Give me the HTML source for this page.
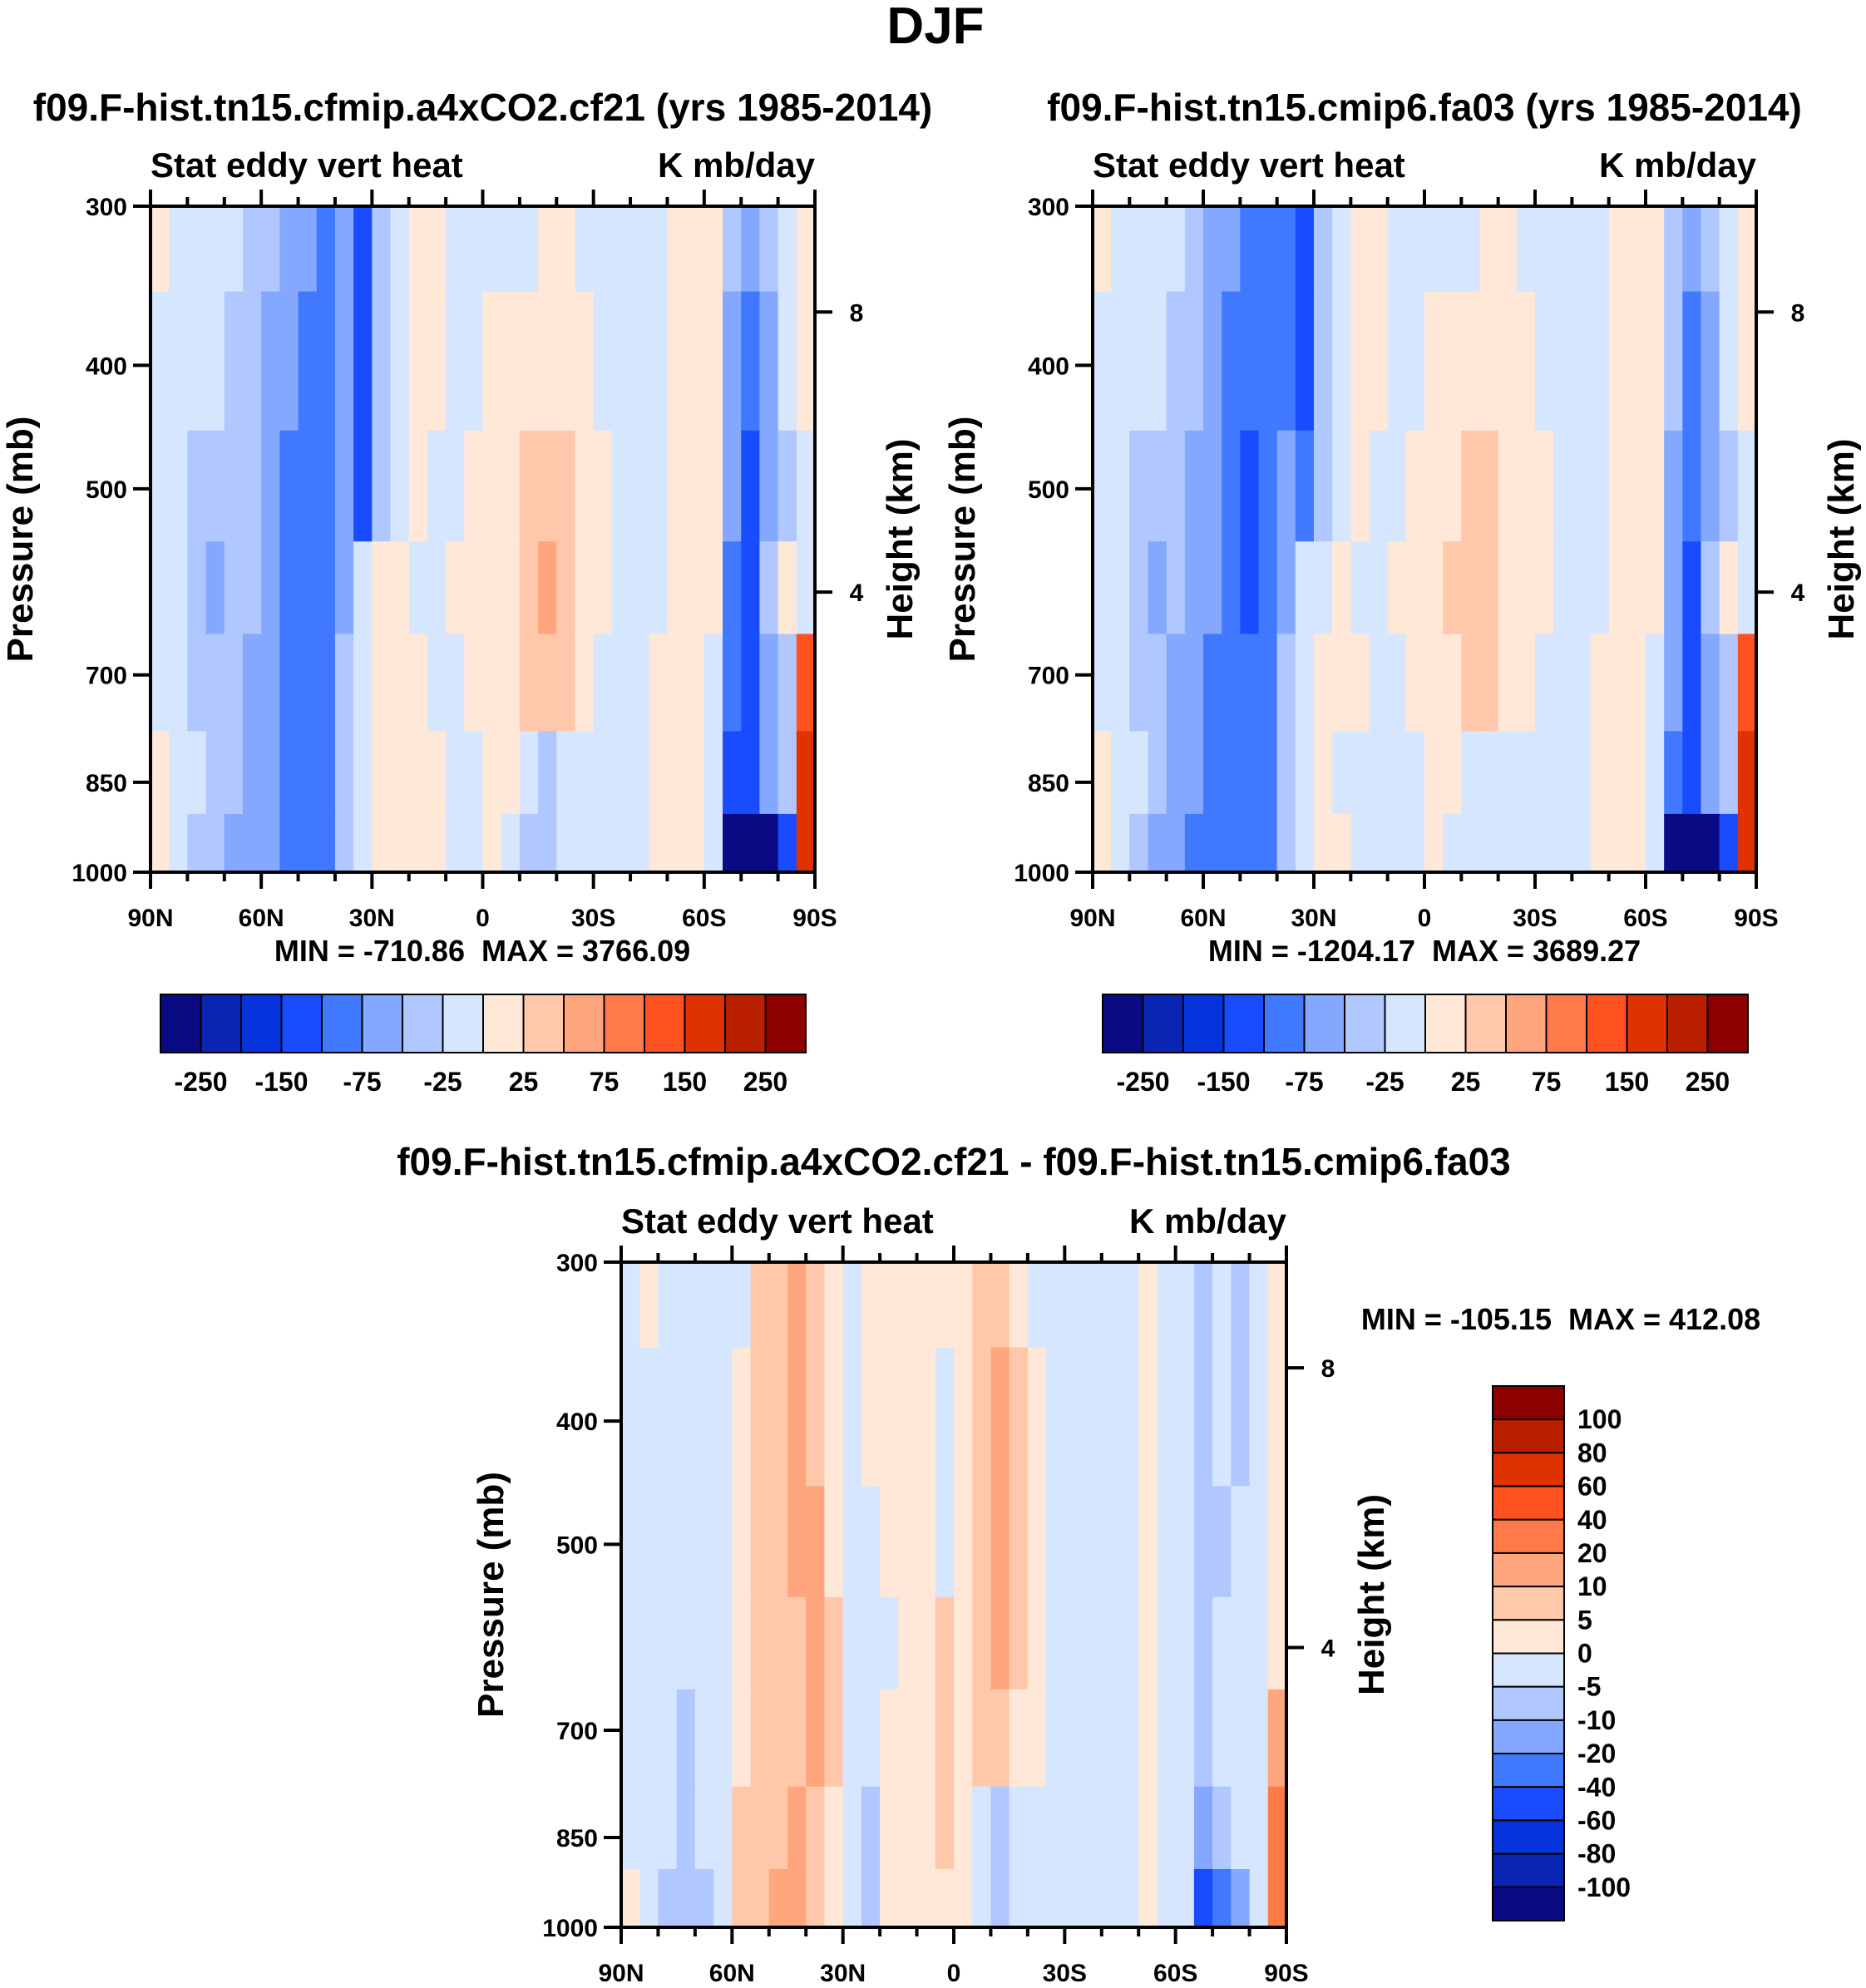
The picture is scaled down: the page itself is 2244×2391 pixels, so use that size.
<!DOCTYPE html>
<html><head><meta charset="utf-8">
<style>
html,body{margin:0;padding:0;background:#fff;}
svg{display:block;font-family:"Liberation Sans",Arial,sans-serif;font-weight:bold;}
</style></head>
<body>
<svg id="fig" width="2244" height="2391" viewBox="0 0 2244 2391" xmlns="http://www.w3.org/2000/svg">
<text x="1125" y="52" font-size="62" text-anchor="middle">DJF</text>
</svg>
<script>
// ---- data ----
const rowBounds = [300,350,450,550,650,775,900,1000];
const pressureTicks = [300,400,500,700,850,1000];
const latTickLabels = ["90N","60N","30N","0","30S","60S","90S"];
const heightTicks = [8,4];
const topLevels = [-250,-200,-150,-100,-75,-50,-25,0,25,50,75,100,150,200,250];
const topCbLabels = ["-250","-150","-75","-25","25","75","150","250"];
const diffLevels = [-100,-80,-60,-40,-20,-10,-5,0,5,10,20,40,60,80,100];
const diffCbLabels = ["100","80","60","40","20","10","5","0","-5","-10","-20","-40","-60","-80","-100"];
const colors = ['#0a0a84','#0a24b4','#0533dc','#1a4cff','#4078ff','#85a8ff','#b0c8ff','#d6e6ff','#ffe8d8','#ffc8aa','#ffa67e','#ff7a48','#ff5020','#e03200','#b82000','#8c0000'];
const p1 = [
[10,-10,-10,-10,-10,-40,-40,-60,-60,-90,-60,-120,-40,-10,10,10,-10,-10,-10,-10,-10,10,10,-10,-10,-10,-10,-10,10,10,10,-40,-60,-40,-10,10],
[-10,-10,-10,-10,-40,-40,-60,-60,-90,-90,-60,-120,-40,-10,10,10,-10,-10,10,10,10,10,10,10,-10,-10,-10,-10,10,10,10,-60,-90,-60,-10,10],
[-10,-10,-40,-40,-40,-40,-60,-90,-90,-90,-60,-120,-40,-10,10,-10,-10,10,10,10,40,40,40,10,10,-10,-10,-10,10,10,10,-60,-120,-60,-40,-10],
[-10,-10,-40,-60,-40,-40,-60,-90,-90,-90,-60,-10,10,10,-10,-10,10,10,10,10,40,60,40,10,10,-10,-10,-10,10,10,10,-90,-120,-40,10,-10],
[-10,-10,-40,-40,-40,-60,-60,-90,-90,-90,-40,-10,10,10,10,-10,-10,10,10,10,40,40,40,10,-10,-10,-10,10,10,10,-10,-90,-120,-60,-40,120],
[10,-10,-10,-40,-40,-60,-60,-90,-90,-90,-40,-10,10,10,10,10,-10,-10,10,10,-10,-40,-10,-10,-10,-10,-10,10,10,10,-10,-120,-120,-60,-40,170],
[10,-10,-40,-40,-60,-60,-60,-90,-90,-90,-40,-10,10,10,10,10,-10,-10,10,-10,-40,-40,-10,-10,-10,-10,-10,10,10,10,-10,-400,-400,-400,-120,170]];
const p2 = [
[10,-10,-10,-10,-10,-40,-60,-60,-90,-90,-90,-120,-40,-10,10,10,-10,-10,-10,-10,-10,10,10,-10,-10,-10,-10,-10,10,10,10,-40,-60,-40,-10,10],
[-10,-10,-10,-10,-40,-40,-60,-90,-90,-90,-90,-120,-40,-10,10,10,-10,-10,10,10,10,10,10,10,-10,-10,-10,-10,10,10,10,-40,-90,-60,-10,10],
[-10,-10,-40,-40,-40,-60,-60,-90,-120,-90,-60,-90,-40,-10,10,-10,-10,10,10,10,40,40,10,10,10,-10,-10,-10,10,10,10,-60,-90,-60,-40,-10],
[-10,-10,-40,-60,-40,-60,-60,-90,-120,-90,-60,-10,-10,10,-10,-10,10,10,10,40,40,40,10,10,10,-10,-10,-10,10,10,10,-60,-120,-40,10,-10],
[-10,-10,-40,-40,-60,-60,-90,-90,-90,-90,-40,-10,10,10,10,-10,-10,10,10,10,40,40,10,10,-10,-10,-10,10,10,10,-10,-60,-120,-60,-40,120],
[10,-10,-10,-40,-60,-60,-90,-90,-90,-90,-40,-10,10,-10,-10,-10,-10,-10,10,10,-10,-10,-10,-10,-10,-10,-10,10,10,10,-10,-90,-120,-60,-40,170],
[10,-10,-40,-60,-60,-90,-90,-90,-90,-90,-40,-10,10,10,-10,-10,-10,-10,10,-10,-10,-10,-10,-10,-10,-10,-10,10,10,10,-10,-400,-400,-400,-120,170]];
const p3 = [
[-2,2,-2,-2,-2,-2,-2,7,7,15,7,2,-2,2,2,2,2,2,2,7,7,2,-2,-2,-2,-2,-2,-2,2,-2,-2,-7,-2,-7,-2,2],
[-2,-2,-2,-2,-2,-2,2,7,7,15,7,2,-2,2,2,2,2,-2,2,7,15,7,2,-2,-2,-2,-2,-2,2,-2,-2,-7,-2,-7,-2,2],
[-2,-2,-2,-2,-2,-2,2,7,7,15,15,2,-2,-2,2,2,2,-2,2,7,15,7,2,-2,-2,-2,-2,-2,2,-2,-2,-7,-7,-2,-2,2],
[-2,-2,-2,-2,-2,-2,2,7,7,7,15,7,-2,-2,-2,2,2,7,2,7,15,7,2,-2,-2,-2,-2,-2,2,-2,-2,-7,-2,-2,-2,2],
[-2,-2,-2,-7,-2,-2,2,7,7,7,15,7,-2,-2,2,2,2,7,2,7,7,2,2,-2,-2,-2,-2,-2,2,-2,-2,-7,-2,-2,-2,15],
[-2,-2,-2,-7,-2,-2,7,7,7,15,7,2,-2,-7,2,2,2,7,2,-2,-7,-2,-2,-2,-2,-2,-2,-2,2,-2,-2,-15,-7,-2,-2,30],
[2,-2,-7,-7,-7,-2,7,7,15,15,7,2,-2,-7,2,2,2,2,2,-2,-7,-2,-2,-2,-2,-2,-2,-2,2,-2,-2,-50,-30,-15,-2,30]];

// ---- drawing ----
const NS = "http://www.w3.org/2000/svg";
const svg = document.getElementById('fig');
function mk(tag, attrs, parent){
  const e = document.createElementNS(NS, tag);
  for (const k in attrs) e.setAttribute(k, attrs[k]);
  (parent||svg).appendChild(e);
  return e;
}
function txt(s, x, y, size, anchor, parent){
  const t = mk('text', {x:x, y:y, 'font-size':size, 'text-anchor':anchor||'middle'}, parent);
  t.textContent = s;
  return t;
}
function classOf(v, levels){
  let i = 0;
  while (i < levels.length && v >= levels[i]) i++;
  return i;
}

function panel(P){
  const g = mk('g', {});
  
  
  const L = P.x0, R = P.x1, T = P.y0, B = P.y1;
  const xOf = lat => L + (90 - lat) / 180 * (R - L);
  const yOf = p => B - Math.log(1000 / p) / Math.log(1000 / 300) * (B - T);
  const ncol = P.data[0].length, dlat = 180 / ncol;
  P.data.forEach((row, r) => {
    row.forEach((v, c) => {
      const xa = xOf(90 - c * dlat), xb = xOf(90 - (c + 1) * dlat);
      const ya = yOf(rowBounds[r]), yb = yOf(rowBounds[r + 1]);
      const cell = mk('rect', {x:xa, y:ya, width:xb - xa + 0.6, height:yb - ya + 0.6, fill:colors[classOf(v, P.levels)]}, g);
      
      
    });
  });
  const frame = mk('rect', {x:L, y:T, width:R - L, height:B - T, fill:'none', stroke:'#000', 'stroke-width':4}, g);
  
  
  pressureTicks.forEach(p => {
    const y = yOf(p);
    mk('line', {x1:L - 21, x2:L, y1:y, y2:y, stroke:'#000', 'stroke-width':4}, g);
    const t = txt(String(p), L - 28, y + 11, 30, 'end', g);
    
    
  });
  heightTicks.forEach(h => {
    const y = yOf(1000 * Math.exp(-h / 7.9));
    mk('line', {x1:R, x2:R + 21, y1:y, y2:y, stroke:'#000', 'stroke-width':4}, g);
    const t = txt(String(h), R + 50, y + 11, 30, 'middle', g);
    
    
  });
  for (let lat = 90; lat >= -90; lat -= 10) {
    const x = xOf(lat), major = lat % 30 === 0;
    const len = major ? 20 : 11;
    mk('line', {x1:x, x2:x, y1:T, y2:T - len, stroke:'#000', 'stroke-width':4}, g);
    mk('line', {x1:x, x2:x, y1:B, y2:B + len, stroke:'#000', 'stroke-width':4}, g);
  }
  latTickLabels.forEach((s, i) => {
    const t = txt(s, xOf(90 - i * 30), B + 65, 30, 'middle', g);
    
    
  });
  let t;
  t = txt(P.title, (L + R) / 2, P.titleY, 46, 'middle', g);
  
  
  t = txt('Stat eddy vert heat', L, T - 35, 42, 'start', g);
  
  
  t = txt('K mb/day', R, T - 35, 42, 'end', g);
  
  
  t = txt('Pressure (mb)', 0, 0, 44, 'middle', g);
  t.setAttribute('transform', `translate(${L - 142},${(T + B) / 2}) rotate(-90)`);
  
  
  t = txt('Height (km)', 0, 0, 44, 'middle', g);
  t.setAttribute('transform', `translate(${R + 117},${(T + B) / 2}) rotate(-90)`);
  
  
  t = txt(P.minmax, P.mmX, P.mmY, 36, 'middle', g);
  
  
  t.setAttribute('xml:space', 'preserve');
  t.style.whiteSpace = 'pre';
}

function hbar(x0, x1, y0, y1, labels, name){
  const g = mk('g', {});
  
  
  const w = (x1 - x0) / colors.length;
  colors.forEach((c, i) => {
    const b = mk('rect', {x:x0 + i * w, y:y0, width:w, height:y1 - y0, fill:c, stroke:'#000', 'stroke-width':2}, g);
    
    
  });
  labels.forEach((s, i) => {
    const t = txt(s, x0 + (2 * i + 1) * w, y1 + 46, 32, 'middle', g);
    
    
  });
}
function vbar(x0, x1, y0, y1, labels, name){
  const g = mk('g', {});
  
  
  const h = (y1 - y0) / colors.length;
  for (let i = 0; i < colors.length; i++) {
    const b = mk('rect', {x:x0, y:y0 + i * h, width:x1 - x0, height:h, fill:colors[colors.length - 1 - i], stroke:'#000', 'stroke-width':2}, g);
    
    
  }
  labels.forEach((s, i) => {
    const t = txt(s, x1 + 16, y0 + (i + 1) * h + 11, 32, 'start', g);
    
    
  });
}

panel({name:'panel-cfmip', data:p1, levels:topLevels, x0:181, x1:980, y0:248, y1:1049, titleY:145,
  title:'f09.F-hist.tn15.cfmip.a4xCO2.cf21 (yrs 1985-2014)', minmax:'MIN = -710.86  MAX = 3766.09', mmX:580, mmY:1156});
panel({name:'panel-cmip6', data:p2, levels:topLevels, x0:1314, x1:2112, y0:248, y1:1049, titleY:145,
  title:'f09.F-hist.tn15.cmip6.fa03 (yrs 1985-2014)', minmax:'MIN = -1204.17  MAX = 3689.27', mmX:1713, mmY:1156});
panel({name:'panel-difference', data:p3, levels:diffLevels, x0:747, x1:1547, y0:1518, y1:2318, titleY:1413,
  title:'f09.F-hist.tn15.cfmip.a4xCO2.cf21 - f09.F-hist.tn15.cmip6.fa03', minmax:'MIN = -105.15  MAX = 412.08', mmX:1877, mmY:1599});
hbar(193, 969, 1196, 1266, topCbLabels, 'colorbar-cfmip');
hbar(1326, 2102, 1196, 1266, topCbLabels, 'colorbar-cmip6');
vbar(1795, 1881, 1667, 2310, diffCbLabels, 'colorbar-difference');
</script>
</body></html>
